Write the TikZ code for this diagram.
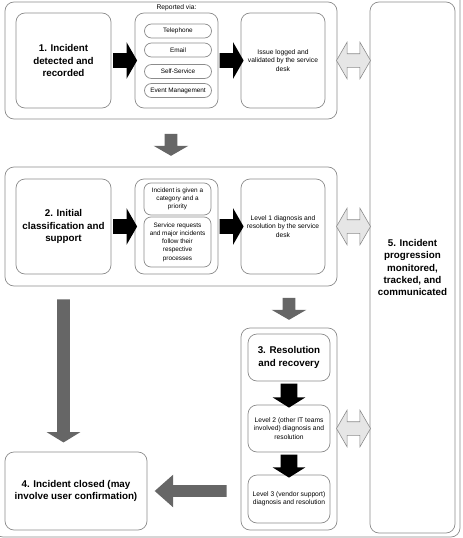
\documentclass[tikz,border=0pt]{standalone}
\usepackage{fontspec}
\setmainfont{Liberation Sans}
\usetikzlibrary{shapes.arrows,calc,positioning}
\definecolor{linegray}{HTML}{8C8C8C}
\definecolor{arrowgray}{HTML}{666666}
\definecolor{lightgray}{HTML}{E6E6E6}
\begin{document}
\begin{tikzpicture}[x=1pt,y=-1pt,line width=0.7pt,
	frame/.style={draw=linegray,rounded corners=9pt},
	main node/.style={draw=linegray,fill=white,rounded corners=9pt,align=center,inner sep=2pt},
	big/.style={font=\fontsize{9.8}{12.3}\selectfont\bfseries},
	small/.style={font=\fontsize{6.7}{8.2}\selectfont},
	pill/.style={main node,rounded corners=7pt,minimum width=67pt,inner sep=1pt,font=\fontsize{6.4}{8.2}\selectfont},
	blk arrow/.style={single arrow,fill=black,draw=none,inner xsep=0pt,inner ysep=7pt,single arrow head extend=11pt,single arrow tip angle=120,minimum height=24pt},
	down arrow/.style={blk arrow,rotate=-90,inner ysep=8pt,single arrow head extend=8pt,single arrow tip angle=116},
	gray arrow/.style={blk arrow,fill=arrowgray,inner ysep=6pt,single arrow head extend=11pt},
	both arrow/.style={double arrow,fill=lightgray,draw=linegray,line width=0.6pt,inner xsep=0pt,inner ysep=6.5pt,double arrow head extend=11.5pt,double arrow tip angle=120,minimum height=34pt}]
\useasboundingbox (0,0) rectangle (463,538);
\begin{scope}
\clip (0,0) rectangle (463,538);
\draw[frame] (-6,-10) rectangle (460,537);
\end{scope}
\node[frame,minimum width=332pt,minimum height=117pt] (grp1) at (171,60.5) {};
\node[frame,minimum width=332pt,minimum height=119pt] (grp2) at (171,226.5) {};
\node[frame,minimum width=96pt,minimum height=202pt] (grp3) at (289,429) {};
\node[main node,big,minimum width=95pt,minimum height=95pt] (1) at (63.5,60.5) {1. Incident\\detected and\\recorded};
\node[main node,minimum width=83pt,minimum height=95pt] (rep) at (176.5,60.5) {};
\node[small,above=1pt of rep,inner sep=0pt] (via) {Reported via:};
\node[pill,minimum height=14pt] (tel) at (178,31) {Telephone};
\node[pill,minimum height=14pt] (mail) at (178,50) {Email};
\node[pill,minimum height=14pt] (self) at (178,71.5) {Self-Service};
\node[pill,minimum height=14pt] (event) at (178,90.5) {Event Management};
\node[main node,small,minimum width=84pt,minimum height=95pt] (log) at (283,60.5) {Issue logged and\\validated by the service\\desk};
\node[main node,big,minimum width=85pt,minimum height=531pt] (5) at (412.5,267.5) {5. Incident\\progression\\monitored,\\tracked, and\\communicated};
\node[main node,big,minimum width=95pt,minimum height=95pt] (2) at (63.5,226.5) {2. Initial\\classification and\\support};
\node[main node,minimum width=83pt,minimum height=95pt] (cat) at (176.5,226.5) {};
\node[pill,minimum height=32pt] (prio) at (177.5,199) {Incident is given a\\category and a\\priority};
\node[pill,minimum height=50pt] (req) at (177.5,242) {Service requests\\and major incidents\\follow their\\respective\\processes};
\node[main node,small,minimum width=84pt,minimum height=95pt] (lvl1) at (283,226.5) {Level 1 diagnosis and\\resolution by the service\\desk};
\node[main node,big,minimum width=82pt,minimum height=47pt] (3) at (289,357.5) {3. Resolution\\and recovery};
\node[main node,small,minimum width=82pt,minimum height=47pt] (lvl2) at (289,428.5) {Level 2 (other IT teams\\involved) diagnosis and\\resolution};
\node[main node,small,minimum width=82pt,minimum height=48pt] (lvl3) at (289,499) {Level 3 (vendor support)\\diagnosis and resolution};
\node[main node,big,minimum width=142pt,minimum height=78pt] (4) at (76,491) {4. Incident closed (may\\involve user confirmation)};
\node[blk arrow] at ($(1.east)!.5!(rep.west)$) {};
\node[blk arrow] at ($(rep.east)!.5!(log.west)$) {};
\node[blk arrow] at ($(2.east)!.5!(cat.west)$) {};
\node[blk arrow] at ($(cat.east)!.5!(lvl1.west)$) {};
\node[down arrow] at ($(3.south)!.5!(lvl2.north)$) {};
\node[down arrow,minimum height=23pt] at ($(lvl2.south)!.5!(lvl3.north)$) {};
\node[gray arrow,rotate=-90,minimum height=22pt] at ($(grp1.south)!.5!(grp2.north)$) {};
\node[gray arrow,rotate=-90,minimum height=22pt] at ($(grp2.south -| grp3.north)!.5!(grp3.north)$) {};
\node[gray arrow,rotate=-90,single arrow head extend=10.5pt,single arrow tip angle=117,minimum height=143pt] at ($(grp2.south -| 2.south)!.5!(4.north -| 2.south)$) {};
\node[gray arrow,rotate=180,inner ysep=5.5pt,single arrow head extend=10.5pt,single arrow tip angle=83,minimum height=72pt] at ($(4.east)!.5!(4.east -| grp3.west)$) {};
\node[both arrow] at ($(grp1.east)!.5!(grp1.east -| 5.west)$) {};
\node[both arrow] at ($(grp2.east)!.5!(grp2.east -| 5.west)$) {};
\node[both arrow] at ($(lvl2.east -| grp3.east)!.5!(lvl2.east -| 5.west)$) {};
\end{tikzpicture}
\end{document}
